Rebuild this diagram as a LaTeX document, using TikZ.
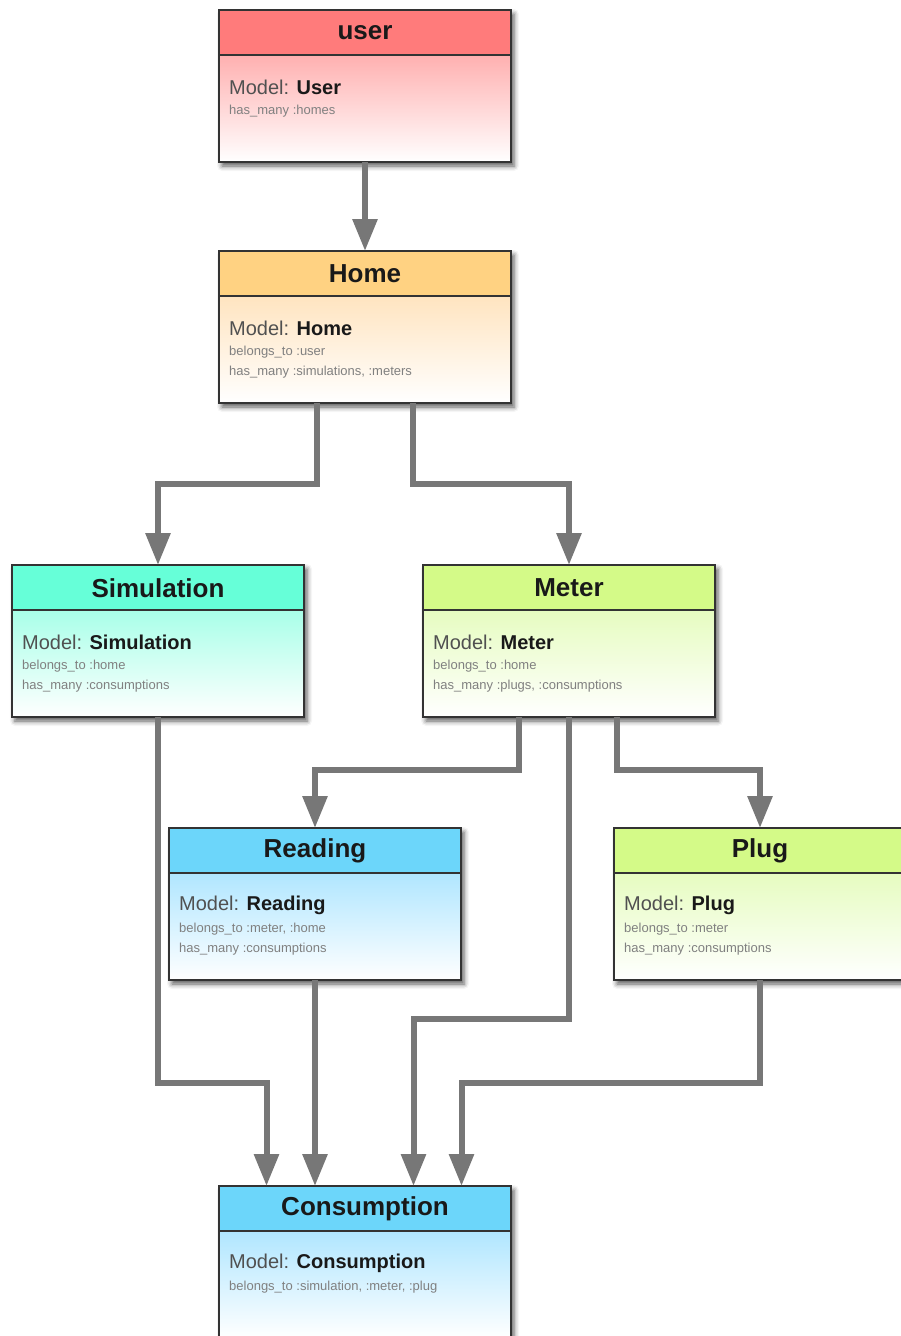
\documentclass[tikz,border=0pt]{standalone}
\usepackage{fontspec}
\setmainfont{Liberation Sans}
\usetikzlibrary{arrows.meta,shadows.blur}

% header and body colours of the model boxes
\definecolor{userhead}{HTML}{FF7B7B}
\definecolor{userbody}{HTML}{FFB0B0}
\definecolor{homehead}{HTML}{FFD282}
\definecolor{homebody}{HTML}{FFE4C0}
\definecolor{simhead}{HTML}{66FFD8}
\definecolor{simbody}{HTML}{A8FFE8}
\definecolor{meterhead}{HTML}{D4FA88}
\definecolor{meterbody}{HTML}{E6FCC0}
\definecolor{readhead}{HTML}{6CD6FA}
\definecolor{readbody}{HTML}{B0E6FF}
\definecolor{framecol}{HTML}{333333}
\definecolor{conncol}{HTML}{777777}
\definecolor{modelcol}{HTML}{505050}
\definecolor{smallcol}{HTML}{808080}

\tikzset{
  entitybox/.style={rectangle, inner sep=0pt, outer sep=0pt,
    minimum width=292pt, minimum height=152pt, anchor=north west,
    fill=white,
    blur shadow={shadow xshift=3pt, shadow yshift=-4pt,
      shadow blur radius=5pt, shadow opacity=65}},
  frame/.style={draw=framecol, line width=1.6pt},
  titletext/.style={font=\bfseries\fontsize{26}{30}\selectfont, text=black!90, inner sep=0pt},
  modeltext/.style={font=\fontsize{20}{24}\selectfont, text=modelcol, anchor=west, inner sep=0pt},
  smalltext/.style={font=\fontsize{13}{15}\selectfont, text=smallcol, anchor=west, inner sep=0pt},
  conn/.style={draw=conncol, line width=6pt,
    -{Triangle[width=24pt,length=32pt]}},
}

% #1 name, #2 left, #3 top, #4 header colour, #5 body colour,
% #6 title, #7 model name, #8 first line, #9 second line
\newcommand\entity[9]{%
  \node[entitybox] (#1) at (#2,#3) {};
  \shade[top color=#5, bottom color=white]
    ([yshift=-45pt]#1.north west) rectangle (#1.south east);
  \fill[#4] (#1.north west) rectangle ([yshift=-45pt]#1.north east);
  \draw[frame] (#1.north west) rectangle (#1.south east);
  \draw[frame] ([yshift=-45pt]#1.north west) -- ([yshift=-45pt]#1.north east);
  \node[titletext] (#1-title) at ([yshift=-23pt]#1.north) {#6};
  \node[modeltext] (#1-model) at ([xshift=10pt,yshift=-77pt]#1.north west)
    {Model: \textcolor{black!90}{\bfseries #7}};
  \node[smalltext] (#1-l1) at ([xshift=10pt,yshift=-101pt]#1.north west) {#8};
  \node[smalltext] (#1-l2) at ([xshift=10pt,yshift=-121pt]#1.north west) {#9};
}

\begin{document}
\begin{tikzpicture}[x=1pt,y=-1pt]
  \useasboundingbox (0,0) rectangle (901,1336);
  \clip (0,0) rectangle (901,1336);

  \entity{user}{219}{10}{userhead}{userbody}{user}{User}{has\_many :homes}{}
  \entity{home}{219}{251}{homehead}{homebody}{Home}{Home}{belongs\_to :user}{has\_many :simulations, :meters}
  \entity{sim}{12}{565}{simhead}{simbody}{Simulation}{Simulation}{belongs\_to :home}{has\_many :consumptions}
  \entity{meter}{423}{565}{meterhead}{meterbody}{Meter}{Meter}{belongs\_to :home}{has\_many :plugs, :consumptions}
  \entity{read}{169}{828}{readhead}{readbody}{Reading}{Reading}{belongs\_to :meter, :home}{has\_many :consumptions}
  \entity{plug}{614}{828}{meterhead}{meterbody}{Plug}{Plug}{belongs\_to :meter}{has\_many :consumptions}
  \entity{cons}{219}{1186}{readhead}{readbody}{Consumption}{Consumption}{belongs\_to :simulation, :meter, :plug}{}

  % incoming ports on the top of Consumption
  \coordinate (c1) at ([xshift=-98.5pt]cons.north);
  \coordinate (c2) at (read.south |- cons.north);
  \coordinate (c3) at ([xshift=48.5pt]cons.north);
  \coordinate (c4) at ([xshift=96.5pt]cons.north);

  % associations
  \draw[conn] (user.south) -- (home.north);
  \draw[conn] ([xshift=-48pt]home.south) -- ++(0,81) -| (sim.north);
  \draw[conn] ([xshift=48pt]home.south) -- ++(0,81) -| (meter.north);
  \draw[conn] ([xshift=-50pt]meter.south) -- ++(0,53) -| (read.north);
  \draw[conn] ([xshift=48pt]meter.south) -- ++(0,53) -| (plug.north);
  \draw[conn] (sim.south) -- ++(0,366) -| (c1);
  \draw[conn] (read.south) -- (c2);
  \draw[conn] (meter.south) -- ++(0,302) -| (c3);
  \draw[conn] (plug.south) -- ++(0,103) -| (c4);
\end{tikzpicture}
\end{document}
